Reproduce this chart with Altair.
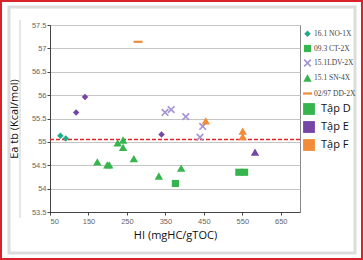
import altair as alt
import pandas as pd

# ---- data ----
hi = [77, 91, 118, 141, 340,
      376, 541, 556,
      349, 365, 403, 440, 447,
      173, 199, 204, 226, 240, 240, 268, 333, 391,
      583,
      455, 551, 551,
      279]
ea = [55.13, 55.07, 55.63, 55.96, 55.16,
      54.11, 54.35, 54.35,
      55.63, 55.69, 55.54, 55.10, 55.33,
      54.57, 54.51, 54.51, 54.98, 55.04, 54.88, 54.64, 54.27, 54.44,
      54.78,
      55.45, 55.23, 55.11,
      57.14]
well = (["16.1 NO-1X"] * 5 + ["09.3 CT-2X"] * 3 + ["15.1LDV-2X"] * 5
        + ["15.1 SN-4X"] * 10 + ["15.1 SN-4X"] * 3 + ["02/97 DD-2X"])
group = (["Tập D", "Tập D", "Tập E", "Tập E", "Tập E"]
         + ["Tập D"] * 3 + ["Tập E"] * 5 + ["Tập D"] * 9 + ["Tập E"]
         + ["Tập F"] * 3 + ["Tập F"])
threshold = [55.05]

wells = ["16.1 NO-1X", "09.3 CT-2X", "15.1LDV-2X", "15.1 SN-4X", "02/97 DD-2X"]
groups = ["Tập D", "Tập E", "Tập F"]
x_ticks = [50, 150, 250, 350, 450, 550, 650]
y_ticks = [53.5, 54.0, 54.5, 55.0, 55.5, 56.0, 56.5, 57.0, 57.5]

GREEN, PURPLE, ORANGE = "#36b54e", "#7546a6", "#f28c38"
TEAL, LAVENDER = "#22a98b", "#a594cf"
well_colors = [TEAL, GREEN, LAVENDER, GREEN, ORANGE]

tone = []
for w, g in zip(well, group):
    if w == "16.1 NO-1X" and g == "Tập D":
        tone.append("teal")
    elif w == "15.1LDV-2X":
        tone.append("lav")
    else:
        tone.append(g)

df = pd.DataFrame({"hi": hi, "ea": ea, "well": well, "tone": tone})

X_PATH = ("M-1,-0.7L-0.7,-1L0,-0.3L0.7,-1L1,-0.7L0.3,0L1,0.7L0.7,1"
          "L0,0.3L-0.7,1L-1,0.7L-0.3,0Z")
DASH_PATH = "M-1,-0.25L1,-0.25L1,0.25L-1,0.25Z"
shape_scale = alt.Scale(domain=wells,
                        range=["diamond", "square", X_PATH, "triangle-up", DASH_PATH])

xs = alt.Scale(domain=[50, 700], nice=False, zero=False)
ys = alt.Scale(domain=[53.5, 57.5], nice=False, zero=False)

x_axis = alt.Axis(values=x_ticks, grid=False, tickSize=3,
                  labelFontSize=7.5, labelColor="#666", labelFont="Liberation Sans",
                  domainColor="#444", tickColor="#444",
                  title="HI (mgHC/gTOC)", titleFont="Open Sans",
                  titleFontSize=11, titleFontWeight="normal",
                  titleColor="#111", titlePadding=5)
y_axis = alt.Axis(values=y_ticks, labelExpr="format(datum.value, '.1~f')",
                  grid=True, gridColor="#c4c4c4", labelOverlap=False,
                  tickSize=3, labelFontSize=7.5, labelColor="#666",
                  labelFont="Liberation Sans", labelPadding=1,
                  domainColor="#444", tickColor="#444",
                  title="Ea tb (Kcal/mol)", titleFont="Open Sans",
                  titleFontSize=11, titleFontWeight="normal",
                  titleColor="#111", titlePadding=12)

well_legend = alt.Legend(title=None, orient="none", legendX=253, legendY=5,
                         symbolSize=22, symbolOpacity=1, symbolStrokeWidth=0,
                         labelFont="Liberation Serif", labelFontSize=7.5,
                         labelColor="#444", labelOffset=2, rowPadding=6.5)

# invisible layer that only provides the well legend (coloured symbols)
legend_layer = alt.Chart(df).mark_point(filled=True, opacity=0, size=1).encode(
    x=alt.X("hi:Q", scale=xs, axis=x_axis),
    y=alt.Y("ea:Q", scale=ys, axis=y_axis),
    shape=alt.Shape("well:N", scale=shape_scale, legend=well_legend),
    fill=alt.Fill("well:N", scale=alt.Scale(domain=wells, range=well_colors),
                  legend=well_legend),
)

points = alt.Chart(df).mark_point(filled=True, opacity=1, strokeWidth=0).encode(
    x=alt.X("hi:Q", scale=xs, axis=x_axis),
    y=alt.Y("ea:Q", scale=ys, axis=y_axis),
    color=alt.Color("tone:N",
                    scale=alt.Scale(domain=groups + ["teal", "lav"],
                                    range=[GREEN, PURPLE, ORANGE, TEAL, LAVENDER]),
                    legend=alt.Legend(values=groups, title=None, orient="none",
                                      legendX=253, legendY=78, symbolType="square",
                                      symbolSize=140, symbolStrokeWidth=0,
                                      symbolOpacity=1,
                                      labelFont="Open Sans", labelFontSize=11,
                                      labelColor="#111", labelOffset=6,
                                      rowPadding=6)),
    shape=alt.Shape("well:N", scale=shape_scale, legend=None),
    size=alt.Size("well:N",
                  scale=alt.Scale(domain=wells, range=[42, 80, 46, 42, 14]),
                  legend=None),
)

rule = alt.Chart(pd.DataFrame({"t": threshold})).mark_rule(
    color="#e3262b", strokeDash=[4, 2], strokeWidth=1.5
).encode(y=alt.Y("t:Q", scale=ys, axis=y_axis))

deco = pd.DataFrame({"k": [0]})
outer = alt.Chart(deco).mark_rect(fill=None, stroke="#d8232a", strokeWidth=2).encode(
    x=alt.value(-49), x2=alt.value(312), y=alt.value(-24), y2=alt.value(234))
panel = alt.Chart(deco).mark_rect(fill=None, stroke="#dcdcdc", strokeWidth=3).encode(
    x=alt.value(-41), x2=alt.value(305), y=alt.value(-18), y2=alt.value(228))
side = alt.Chart(deco).mark_rule(stroke="#cfcfcf", strokeWidth=1).encode(
    x=alt.value(-30), y=alt.value(-5), y2=alt.value(193))

chart = alt.layer(outer, panel, side, rule, legend_layer, points).properties(
    width=250, height=187,
    padding={"left": 50, "top": 25, "right": 63, "bottom": 48},
    autosize="none",
    background="white",
).configure_view(stroke="#888", strokeWidth=1)

chart.save("out.html", embed_options={"renderer": "svg", "actions": False})
